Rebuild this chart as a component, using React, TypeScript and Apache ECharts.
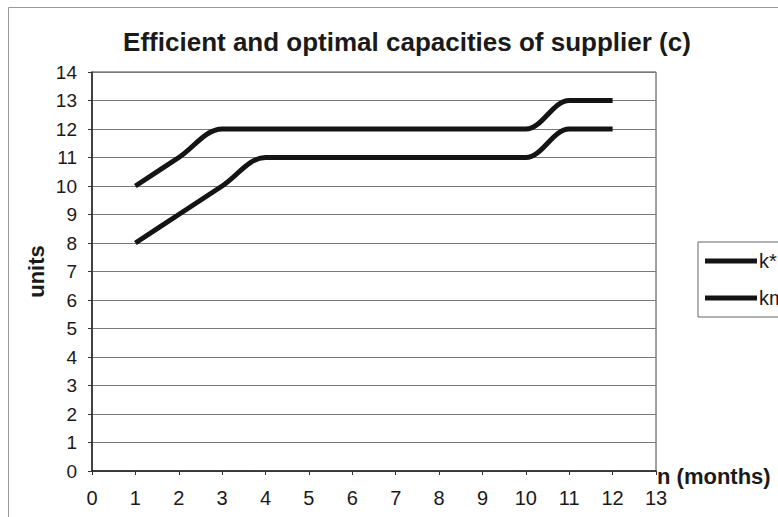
import React, { useEffect, useRef } from "react";
import * as echarts from "echarts";

const months = [1, 2, 3, 4, 5, 6, 7, 8, 9, 10, 11, 12];
const kStar = [10, 11, 12, 12, 12, 12, 12, 12, 12, 12, 13, 13];
const kM = [8, 9, 10, 11, 11, 11, 11, 11, 11, 11, 12, 12];
const seriesNames = ["k*", "km"];
const titleText = "Efficient and optimal capacities of supplier (c)";
const yName = "units";
const xName = "n (months)";

export default function App() {
  const ref = useRef<HTMLDivElement>(null);
  useEffect(() => {
    if (!ref.current) return;
    const chart = echarts.init(ref.current, undefined, { renderer: "svg" });
    const font = "'Liberation Sans', Arial, sans-serif";
    const lineColor = "#141414";
    chart.setOption({
      animation: false,
      backgroundColor: "#ffffff",
      textStyle: { fontFamily: font },
      title: {
        text: titleText,
        left: 402,
        textAlign: "center",
        top: 24,
        textStyle: { fontFamily: font, fontSize: 26, fontWeight: "bold", color: "#1a1a1a" },
      },
      grid: {
        left: 92,
        right: 122,
        top: 72,
        bottom: 46,
        show: true,
        borderColor: "#444",
        borderWidth: 1,
      },
      legend: {
        orient: "vertical",
        left: 698,
        top: 242,
        padding: [9, 40, 9, 7],
        itemGap: 17,
        itemWidth: 52,
        itemHeight: 5,
        icon: "rect",
        borderColor: "#666",
        borderWidth: 1,
        textStyle: { fontFamily: font, fontSize: 20, color: "#1a1a1a", padding: [0, 0, 0, -3] },
        data: seriesNames,
      },
      xAxis: {
        type: "value",
        min: 0,
        max: 13,
        interval: 1,
        axisLine: { show: true, lineStyle: { color: "#222", width: 1.5 } },
        axisTick: { show: true, length: 4, lineStyle: { color: "#333" } },
        axisLabel: { fontFamily: font, fontSize: 20, color: "#1a1a1a", margin: 17 },
        splitLine: { show: false },
      },
      yAxis: {
        type: "value",
        min: 0,
        max: 14,
        interval: 1,
        name: yName,
        nameLocation: "middle",
        nameGap: 45,
        nameMoveOverlap: false,
        nameRotate: 90,
        nameTextStyle: { fontFamily: font, fontSize: 22, fontWeight: "bold", color: "#1a1a1a" },
        axisLine: { show: true, lineStyle: { color: "#222", width: 1.5 } },
        axisTick: { show: true, length: 4, lineStyle: { color: "#333" } },
        axisLabel: { fontFamily: font, fontSize: 19, color: "#1a1a1a", margin: 15 },
        splitLine: { show: true, lineStyle: { color: "#7a7a7a", width: 1 } },
      },
      graphic: [
        {
          type: "rect",
          shape: { x: 8.5, y: 7.5, width: 820, height: 530 },
          style: { fill: "none", stroke: "#999", lineWidth: 1 },
          silent: true,
          z: -1,
        },
        {
          type: "text",
          x: 657,
          y: 476,
          style: {
            text: xName,
            font: `bold 22px ${font}`,
            fill: "#1a1a1a",
            verticalAlign: "middle",
          },
        },
      ],
      series: [
        {
          name: seriesNames[0],
          type: "line",
          data: months.map((m, i) => [m, kStar[i]]),
          smooth: 0.35,
          showSymbol: false,
          symbol: "none",
          lineStyle: { color: lineColor, width: 5 },
          itemStyle: { color: lineColor },
        },
        {
          name: seriesNames[1],
          type: "line",
          data: months.map((m, i) => [m, kM[i]]),
          smooth: 0.35,
          showSymbol: false,
          symbol: "none",
          lineStyle: { color: lineColor, width: 5 },
          itemStyle: { color: lineColor },
        },
      ],
    });
    return () => chart.dispose();
  }, []);
  return (
    <div style={{ position: "fixed", left: 0, top: 0, width: 778, height: 517, overflow: "hidden", background: "#fff" }}>
      <div ref={ref} style={{ width: 778, height: 517 }} />
    </div>
  );
}
